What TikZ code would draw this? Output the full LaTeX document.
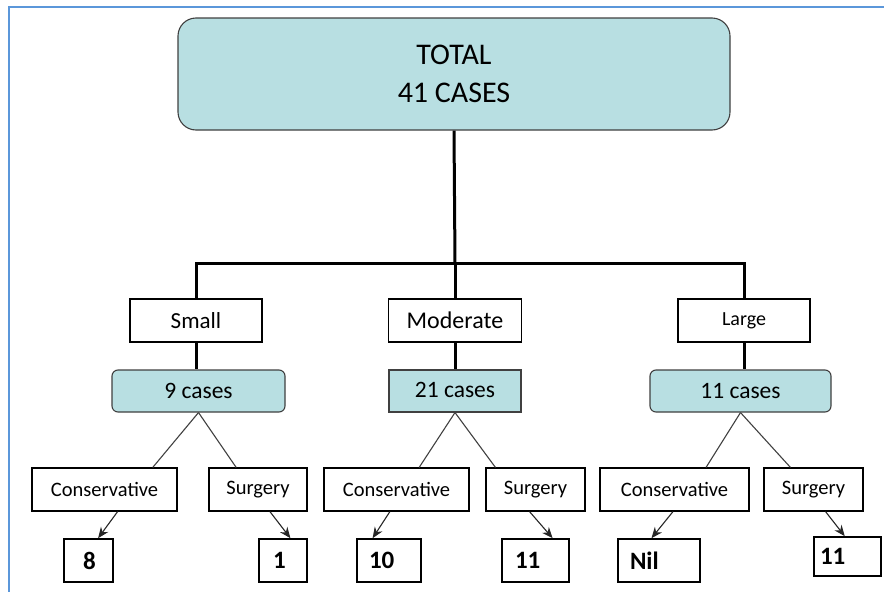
\documentclass[tikz,border=0pt]{standalone}
\usepackage{fontspec}
\setmainfont{Carlito}
\usepackage{tikz}
\usetikzlibrary{arrows.meta,calc}
\definecolor{CaseTeal}{HTML}{B8DFE2}
\definecolor{FrameBlue}{HTML}{5B97DA}
\definecolor{LineGray}{HTML}{404040}
\tikzset{
  totalbox/.style={rectangle,rounded corners=18pt,draw=black!75,line width=1.1pt,fill=CaseTeal,minimum width=552pt,minimum height=112pt,align=center,font=\fontsize{30}{38}\selectfont},
  sizebox/.style={rectangle,draw=black,line width=1.1pt,minimum width=132pt,minimum height=43pt,inner sep=0pt,font=\fontsize{23}{26}\selectfont},
  casebox/.style={rectangle,rounded corners=6pt,draw=black!75,line width=1.1pt,fill=CaseTeal,minimum height=42pt,inner sep=0pt,font=\fontsize{23.5}{26}\selectfont},
  treatbox/.style={rectangle,draw=black,line width=1.1pt,minimum height=43pt,inner sep=0pt,font=\fontsize{20.5}{24}\selectfont},
  numbox/.style={rectangle,draw=black,line width=1.6pt,minimum height=43pt,inner ysep=0pt,align=left,font=\fontsize{25}{26}\selectfont\bfseries},
  trunk/.style={line width=3pt,color=black},
  branch/.style={line width=1.1pt,color=LineGray},
  arrow/.style={-{Stealth[length=11pt,width=9pt]},line width=1.1pt,color=black!85},
}

\begin{document}
\begin{tikzpicture}[x=1pt,y=-1pt]
  \useasboundingbox (0,0) rectangle (884,592);
  \draw[FrameBlue,line width=2.6pt] (9,592) -- (9,7) -- (884,7);

  % Total and size groups
  \node[totalbox] (total) at (454,74) {TOTAL\\41 CASES};
  \node[sizebox] (small) at (196,320.5) {Small};
  \node[sizebox,minimum width=133pt,font=\fontsize{24}{26}\selectfont] (moderate) at (455,320.5) {Moderate};
  \node[sizebox,font=\fontsize{20}{24}\selectfont] (large) at (744,320.5) {Large};
  \coordinate (bar) at (455,263);

  % Case counts
  \node[casebox,minimum width=173pt] (c9) at (198.5,391) {9 cases};
  \node[casebox,minimum width=132pt,rounded corners=0pt] (c21) at (455,391) {\raisebox{3pt}{21 cases}};
  \node[casebox,minimum width=181pt] (c11) at (740.5,391) {11 cases};

  % Treatment boxes
  \node[treatbox,minimum width=145pt] (sc) at (104.5,489.5) {Conservative};
  \node[treatbox,minimum width=98pt] (ss) at (258,489.5) {Surgery};
  \node[treatbox,minimum width=145pt] (mc) at (396.5,489.5) {Conservative};
  \node[treatbox,minimum width=99pt] (ms) at (535.5,489.5) {Surgery};
  \node[treatbox,minimum width=149pt] (lc) at (674.5,489.5) {Conservative};
  \node[treatbox,minimum width=99pt] (ls) at (813.5,489.5) {Surgery};

  % Results
  \node[numbox,text width=11pt,inner xsep=19pt] (n8) at (88.5,560.5) {8};
  \node[numbox,text width=20pt,inner xsep=14pt] (n1) at (283,560.5) {1};
  \node[numbox,text width=40pt,inner xsep=12pt] (n10) at (389,560.5) {10};
  \node[numbox,text width=41pt,inner xsep=13pt] (n11m) at (535.5,560.5) {11};
  \node[numbox,text width=58pt,inner xsep=12pt] (nnil) at (659,560.5) {Nil};
  \node[numbox,text width=55pt,inner xsep=6pt,minimum height=39pt] (n11l) at (847.5,556.5) {11};

  % Trunk lines
  \draw[trunk] (total.south) -- (bar);
  \draw[trunk] (small.north) |- (bar) -| (large.north);
  \draw[trunk] (bar) -- (moderate.north);
  \draw[trunk] (small.south) -- (small.south |- c9.north);
  \draw[trunk] (moderate.south) -- (moderate.south |- c21.north);
  \draw[trunk] (large.south) -- (large.south |- c11.north);

  % Branches
  \draw[branch] (c9.south) -- ($(sc.north west)!0.83!(sc.north east)$);
  \draw[branch] (c9.south) -- ($(ss.north west)!0.28!(ss.north east)$);
  \draw[branch] (c21.south) -- ($(mc.north west)!0.655!(mc.north east)$);
  \draw[branch] (c21.south) -- ($(ms.north west)!0.1!(ms.north east)$);
  \draw[branch] (c11.south) -- ($(lc.north west)!0.71!(lc.north east)$);
  \draw[branch] (c11.south) -- ($(ls.north west)!0.27!(ls.north east)$);

  % Result arrows
  \draw[arrow] ($(sc.south west)!0.59!(sc.south east)$) -- ($(n8.north west)!0.69!(n8.north east)$);
  \draw[arrow] ($(ss.south west)!0.62!(ss.south east)$) -- ($(n1.north west)!0.65!(n1.north east)$);
  \draw[arrow] ($(mc.south west)!0.455!(mc.south east)$) -- ($(n10.north west)!0.25!(n10.north east)$);
  \draw[arrow] ($(ms.south west)!0.44!(ms.south east)$) -- ($(n11m.north west)!0.75!(n11m.north east)$);
  \draw[arrow] ($(lc.south west)!0.49!(lc.south east)$) -- ($(nnil.north west)!0.41!(nnil.north east)$);
  \draw[arrow] ($(ls.south west)!0.62!(ls.south east)$) -- ($(n11l.north west)!0.46!(n11l.north east)$);
\end{tikzpicture}
\end{document}
